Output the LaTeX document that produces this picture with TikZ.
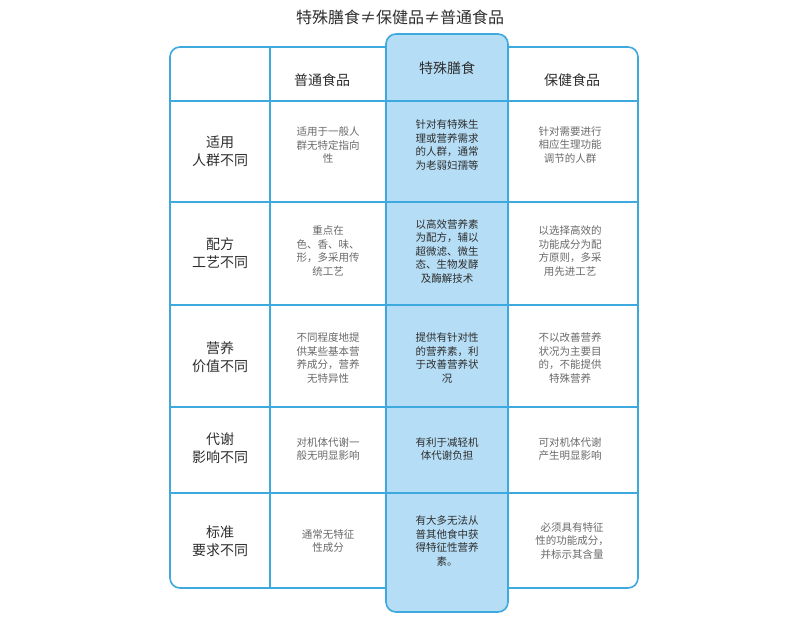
\documentclass[tikz,border=0pt]{standalone}
\usepackage{fontspec}
\setmainfont{Noto Sans CJK SC}
\definecolor{bl}{HTML}{3EA9DE}
\definecolor{hl}{HTML}{B5DDF5}
\definecolor{gt}{HTML}{6A6A6A}
\definecolor{dt}{HTML}{2E2E2E}
\begin{document}
\begin{tikzpicture}[x=1pt,y=-1pt,
  cell/.style={align=center,font=\fontsize{10.5}{13.5}\selectfont,text=gt},
  hcell/.style={align=center,font=\fontsize{10.5}{13.5}\selectfont,text=dt},
  rowh/.style={align=center,font=\fontsize{14}{18}\selectfont,text=dt},
  colh/.style={align=center,font=\fontsize{14}{18}\selectfont,text=dt},
  grid/.style={bl,line width=1.6pt}]
\useasboundingbox (0,0) rectangle (800,628);
\draw[grid,fill=white,rounded corners=10pt] (170,47) rectangle (638,588);
\draw[grid,fill=hl,rounded corners=10pt] (386,34) rectangle (508,612);
\foreach \y in {101,202,305,407,493} \draw[grid] (170,\y) -- (638,\y);
\draw[grid] (270,47) -- (270,588);
\node[font=\fontsize{16}{20}\selectfont,text=dt] (title) at (400,17) {特殊膳食≠保健品≠普通食品};
\node[colh] (c1) at (322,80) {普通食品};
\node[colh] (c2) at (447,68) {特殊膳食};
\node[colh] (c3) at (572,80) {保健食品};
\node[rowh] (r1) at (220,151) {适用\\人群不同};
\node[rowh] (r2) at (220,253) {配方\\工艺不同};
\node[rowh] (r3) at (220,357) {营养\\价值不同};
\node[rowh] (r4) at (220,448) {代谢\\影响不同};
\node[rowh] (r5) at (220,541) {标准\\要求不同};
\node[cell] (a1) at (328,145) {适用于一般人\\群无特定指向\\性};
\node[hcell] (b1) at (447,145) {针对有特殊生\\理或营养需求\\的人群，通常\\为老弱妇孺等};
\node[cell] (d1) at (570,145) {针对需要进行\\相应生理功能\\调节的人群};
\node[cell] (a2) at (328,251) {重点在\\色、香、味、\\形，多采用传\\统工艺};
\node[hcell] (b2) at (447,251) {以高效营养素\\为配方，辅以\\超微滤、微生\\态、生物发酵\\及酶解技术};
\node[cell] (d2) at (570,251) {以选择高效的\\功能成分为配\\方原则，多采\\用先进工艺};
\node[cell] (a3) at (328,358) {不同程度地提\\供某些基本营\\养成分，营养\\无特异性};
\node[hcell] (b3) at (447,358) {提供有针对性\\的营养素，利\\于改善营养状\\况};
\node[cell] (d3) at (570,358) {不以改善营养\\状况为主要目\\的，不能提供\\特殊营养};
\node[cell] (a4) at (328,449) {对机体代谢一\\般无明显影响};
\node[hcell] (b4) at (447,449) {有利于减轻机\\体代谢负担};
\node[cell] (d4) at (570,449) {可对机体代谢\\产生明显影响};
\node[cell] (a5) at (328,541) {通常无特征\\性成分};
\node[hcell] (b5) at (447,541) {有大多无法从\\普其他食中获\\得特征性营养\\素。};
\node[cell] (d5) at (572,541) {必须具有特征\\性的功能成分，\\并标示其含量};
\end{tikzpicture}
\end{document}
